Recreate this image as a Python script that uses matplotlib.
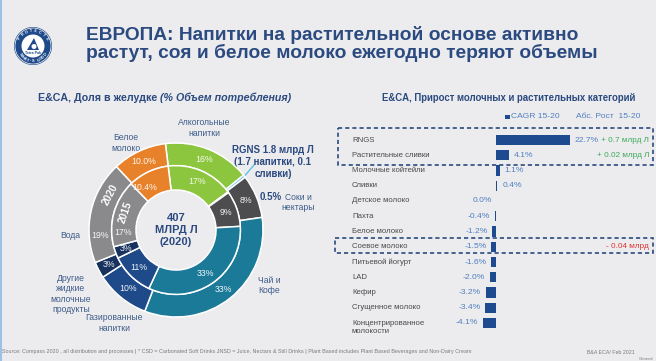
import matplotlib
matplotlib.use("Agg")
import matplotlib.pyplot as plt
import numpy as np
from matplotlib.patches import Circle, Rectangle, Polygon
from matplotlib import transforms

plt.rcParams['font.family'] = ['Liberation Sans', 'DejaVu Sans']

W, H = 656, 361
BG = '#ECECEE'
NAVY = '#2B4A80'
LBLUE = '#4F7FC0'
LABEL = '#3E5C8A'

# ---------------- data ----------------
segments = ["Алкогольные напитки", "RGNS", "Соки и нектары", "Чай и Кофе",
            "Газированные напитки", "Другие жидкие молочные продукты", "Вода", "Белое молоко"]
share_2020 = [16, 0.5, 8, 33, 10, 3, 19, 10.0]
share_2015 = [17, 0.2, 9, 33, 11, 3, 17, 10.4]
labels_2020 = ["16%", "", "8%", "33%", "10%", "3%", "19%", "10.0%"]
labels_2015 = ["17%", "", "9%", "33%", "11%", "3%", "17%", "10.4%"]
seg_colors = ['#8CC63F', '#5BC2E7', '#4D4D4F', '#1C7A99', '#1F4A8A', '#17325E', '#8A8A8C', '#E8822A']

cagr_cats = ["RNGS", "Растительные сливки", "Молочные койтейли", "Сливки", "Детское молоко",
             "Пахта", "Белое молоко", "Соевое молоко", "Питьевой йогурт", "LAD", "Кефир",
             "Сгущенное молоко", "Концентрированное\nмолокости"]
cagr_vals = [22.7, 4.1, 1.1, 0.4, 0.0, -0.4, -1.2, -1.5, -1.6, -2.0, -3.2, -3.4, -4.1]
abs_growth = ["+ 0.7 млрд Л", "+ 0.02 млрд Л", "", "", "", "", "", "- 0.04 млрд",
              "", "", "", "", ""]

# ---------------- figure ----------------
fig = plt.figure(figsize=(W / 100, H / 100), dpi=100, facecolor=BG)
bg = fig.add_axes([0, 0, 1, 1], zorder=0)
bg.set_xlim(0, W)
bg.set_ylim(H, 0)
bg.axis('off')
bg.set_facecolor(BG)

# left edge thin line
bg.plot([1, 1], [0, H], color='#9CC0E8', lw=1.5)

# logo
LX, LY = 33, 46
bg.add_patch(Circle((LX, LY), 19, facecolor='#1F4A8A', edgecolor='none'))
bg.add_patch(Circle((LX, LY), 18, facecolor='none', edgecolor='white', lw=0.5))
bg.add_patch(Circle((LX, LY), 11.5, facecolor='white', edgecolor='none'))
bg.add_patch(Polygon([[LX - 6, LY + 4], [LX + 1, LY - 8], [LX + 6, LY + 4]], closed=True,
                     facecolor='#1F4A8A', edgecolor='none'))
bg.add_patch(Circle((LX + 1, LY + 0.5), 2.5, facecolor='white', edgecolor='none'))
bg.text(LX, LY + 7.5, "Tetra Pak", fontsize=2.6, color='#1F4A8A', ha='center', va='center',
        fontweight='bold')
for txt, a0, a1, top in [("PROTECTS", 150, 30, True), ("WHAT'S GOOD", 215, 325, False)]:
    angs = np.linspace(a0, a1, len(txt))
    for ch, a in zip(txt, angs):
        r = 15.3
        x = LX + r * np.cos(np.radians(a))
        y = LY - r * np.sin(np.radians(a))
        rot = a - 90 if top else a + 90
        bg.text(x, y, ch, fontsize=2.8, color='white', ha='center', va='center',
                rotation=rot, fontweight='bold')

# title
bg.text(86, 40, "ЕВРОПА: Напитки на растительной основе активно", fontsize=13.75,
        fontweight='bold', color=NAVY, ha='left', va='baseline')
bg.text(86, 58.3, "растут, соя и белое молоко ежегодно теряют объемы", fontsize=13.75,
        fontweight='bold', color=NAVY, ha='left', va='baseline')

# left subtitle (bold + bold italic)
renderer = fig.canvas.get_renderer()
t1 = bg.text(38, 98, "E&CA, Доля в желудке ", fontsize=7.7, fontweight='bold',
             color=NAVY, ha='left', va='center')
ext = t1.get_window_extent(renderer=renderer)
x_end = ext.x1  # display px
bg.text(x_end, H - 98, "(% Объем потребления)", fontsize=7.7, fontweight='bold',
        fontstyle='italic', color=NAVY, ha='left', va='center', transform=None)

# right subtitle
bg.text(382, 98, "E&CA, Прирост молочных и растительных категорий", fontsize=6.9,
        fontweight='bold', color=NAVY, ha='left', va='center')

# ---------------- donut ----------------
CX, CY, R = 176, 230, 87
ax_pie = fig.add_axes([(CX - 100) / W, (H - CY - 100) / H, 200 / W, 200 / H], zorder=2)
w_out, _ = ax_pie.pie(share_2020, radius=1.0, startangle=97, counterclock=False,
                      colors=seg_colors,
                      wedgeprops=dict(width=0.26, edgecolor='white', linewidth=1.1))
w_in, _ = ax_pie.pie(share_2015, radius=0.74, startangle=97, counterclock=False,
                     colors=seg_colors,
                     wedgeprops=dict(width=0.28, edgecolor='white', linewidth=1.1))
ax_pie.set_xlim(-100 / R, 100 / R)
ax_pie.set_ylim(-100 / R, 100 / R)
ax_pie.axis('off')

def put(ax, ang, r, s, **kw):
    ax.text(r * np.cos(np.radians(ang)), r * np.sin(np.radians(ang)), s,
            ha='center', va='center', **kw)

overrides_out = {6: 184}
overrides_in = {6: 183, 7: 126}
for i, w in enumerate(w_out):
    if labels_2020[i]:
        ang = overrides_out.get(i, (w.theta1 + w.theta2) / 2)
        put(ax_pie, ang, 0.87, labels_2020[i], fontsize=6.3, color='white', alpha=0.92)
for i, w in enumerate(w_in):
    if labels_2015[i]:
        ang = overrides_in.get(i, (w.theta1 + w.theta2) / 2)
        put(ax_pie, ang, 0.61, labels_2015[i], fontsize=6.3, color='white', alpha=0.92)
put(ax_pie, 152, 0.86, "2020", fontsize=7.3, color='white', fontweight='bold', rotation=62)
put(ax_pie, 161, 0.61, "2015", fontsize=7.3, color='white', fontweight='bold', rotation=71)

ax_pie.text(0, 0, "407\nМЛРД Л\n(2020)", ha='center', va='center', fontsize=8,
            fontweight='bold', color=NAVY, linespacing=1.25)

# RGNS leader line
w_r = w_out[1]
a_r = np.radians((w_r.theta1 + w_r.theta2) / 2)
bg.plot([CX + R * np.cos(a_r), 254], [CY - R * np.sin(a_r), 165], color='#5BC2E7', lw=1.0)

# outside labels
lab_kw = dict(fontsize=6.2, color=LABEL, ha='center', va='center', linespacing=1.15)
bg.text(204, 128, "Алкогольные\nнапитки", **lab_kw)
bg.text(126, 143, "Белое\nмолоко", **lab_kw)
bg.text(70, 236, "Вода", **lab_kw)
bg.text(71, 294, "Другие\nжидкие\nмолочные\nпродукты", **lab_kw)
bg.text(114, 323, "Газированные\nнапитки", **lab_kw)
bg.text(269, 285.5, "Чай и\nКофе", **lab_kw)
bg.text(298, 202.5, "Соки и\nнектары", **lab_kw)
bg.text(271, 197, "0.5%", fontsize=7, fontweight='bold', color=NAVY, ha='center', va='center')
bg.text(273, 162, "RGNS 1.8 млрд Л\n(1.7 напитки, 0.1\nсливки)", fontsize=7, fontweight='bold',
        color=NAVY, ha='center', va='center', linespacing=1.2)

# ---------------- bars ----------------
ZX, PXU = 496, 3.25
Y0, DY = 140, 15.25
AX0, AX1, AY0, AY1 = 340, 656, 125, 340
ax_b = fig.add_axes([AX0 / W, (H - AY1) / H, (AX1 - AX0) / W, (AY1 - AY0) / H], zorder=2)
ax_b.set_xlim((AX0 - ZX) / PXU, (AX1 - ZX) / PXU)
ax_b.set_ylim((AY1 - Y0) / DY, (AY0 - Y0) / DY)
ax_b.axis('off')
ypos = np.arange(len(cagr_vals))
ax_b.barh(ypos, cagr_vals, height=0.68, color='#1E4B8F', edgecolor='none')
blend = transforms.blended_transform_factory(ax_b.transAxes, ax_b.transData)
for i, (c, v, g) in enumerate(zip(cagr_cats, cagr_vals, abs_growth)):
    yy = i + (0.3 if '\n' in c else 0)
    ax_b.text((352 - AX0) / (AX1 - AX0), yy, c, transform=blend, fontsize=5.6, color='#4A4A4A',
              ha='left', va='center', linespacing=1.2)
    if v > 0:
        ax_b.annotate(f"{v:.1f}%", (v, i), xytext=(3.5, 0), textcoords='offset points',
                      ha='left', va='center', fontsize=6.1, color=LBLUE)
    else:
        ax_b.annotate(f"{v:.1f}%", (v, i), xytext=(-3.2, 0), textcoords='offset points',
                      ha='right', va='center', fontsize=6.1, color=LBLUE)
    if g:
        col = '#3DAA5A' if g.startswith('+') else '#E03333'
        ax_b.text((649 - AX0) / (AX1 - AX0), i, g, transform=blend, fontsize=5.9, color=col,
                  ha='right', va='center')

# legend
bg.add_patch(Rectangle((505, 114.5), 4.5, 4.5, facecolor='#1E4B8F', edgecolor='none'))
bg.text(511, 117, "CAGR 15-20", fontsize=6.1, color=LBLUE, ha='left', va='center')
bg.text(576, 116.5, "Абс. Рост  15-20", fontsize=6.1, color=LBLUE, ha='left', va='center')

# dashed boxes
for (x0, y0, x1, y1) in [(338, 128, 653, 165), (335, 238, 653, 253)]:
    bg.add_patch(Rectangle((x0, y0), x1 - x0, y1 - y0, facecolor='none', edgecolor=NAVY,
                           lw=1.2, linestyle=(0, (2.5, 1.8)), zorder=5))

# footer
bg.text(2, 352, "Source: Compass 2020 , all distribution and processes | * CSD = Carbonated Soft Drinks JNSD = Juice, "
        "Nectars & Still Drinks | Plant Based includes Plant Based Beverages and Non-Dairy Cream",
        fontsize=3.9, color='#7A7A7A', ha='left', va='center')
bg.text(587, 352, "B&A ECA/ Feb 2021", fontsize=3.8, color='#7A7A7A', ha='left', va='center')
bg.text(653, 359, "General", fontsize=3, color='#7A7A7A', ha='right', va='center')

fig.savefig("out.png", dpi=100, facecolor=BG)
